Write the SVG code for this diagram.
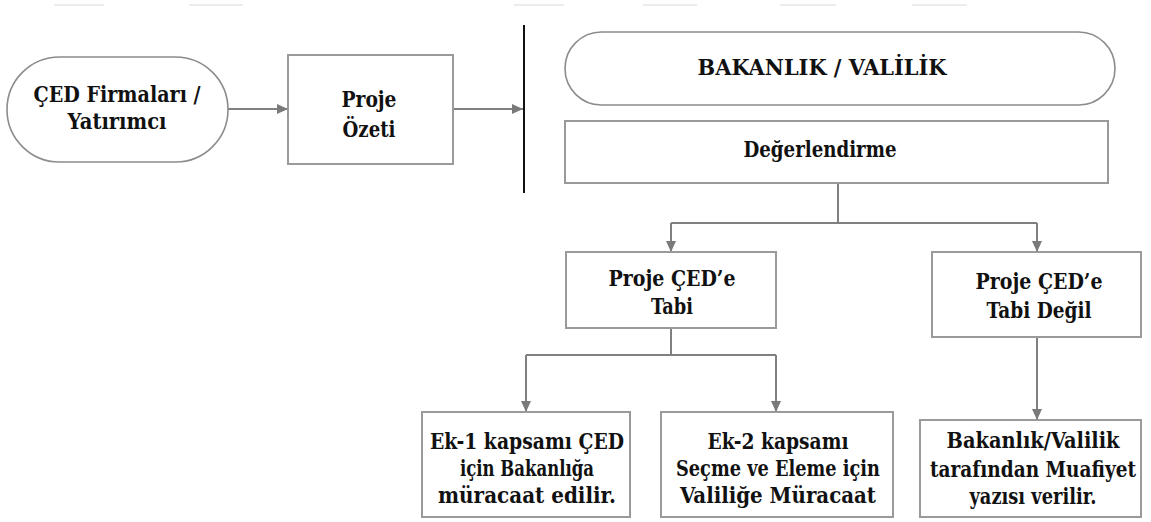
<svg xmlns="http://www.w3.org/2000/svg" width="1151" height="522" viewBox="0 0 1151 522">
  <style>
    .box { fill: #ffffff; stroke: #9a9a9a; stroke-width: 2; }
    .pill { fill: #ffffff; stroke: #8c8c8c; stroke-width: 1.6; }
    .lbl { font-family: "DejaVu Serif Condensed", "DejaVu Serif", "Liberation Serif", serif; font-stretch: condensed; font-weight: bold; font-size: 22px; fill: #111111; text-anchor: middle; }
    .conn { fill: none; stroke: #808080; stroke-width: 2; }
    .divider { fill: none; stroke: #111111; stroke-width: 2; }
    .rule { stroke: #ececec; stroke-width: 2; }
  </style>
  <defs>
    <marker id="arrow" markerUnits="userSpaceOnUse" markerWidth="11" markerHeight="10" refX="11" refY="5" orient="auto">
      <path d="M0,0 L11,5 L0,10 z" fill="#7a7a7a"/>
    </marker>
  </defs>

  <rect width="1151" height="522" fill="#ffffff"/>

  <!-- faint ruling along the top edge -->
  <g id="top-rule">
    <line class="rule" x1="54" y1="5" x2="104" y2="5"/>
    <line class="rule" x1="189" y1="5" x2="243" y2="5"/>
    <line class="rule" x1="514" y1="5" x2="564" y2="5"/>
    <line class="rule" x1="643" y1="5" x2="697" y2="5"/>
    <line class="rule" x1="780" y1="5" x2="836" y2="5"/>
    <line class="rule" x1="912" y1="5" x2="967" y2="5"/>
  </g>

  <!-- connectors -->
  <g id="connectors">
    <path class="conn" d="M228,109 H288" marker-end="url(#arrow)"/>
    <path class="conn" d="M453,109 H523" marker-end="url(#arrow)"/>
    <path class="divider" d="M524,25 V193"/>
    <path class="conn" d="M838,183 V223"/>
    <path class="conn" d="M671,223 H1037"/>
    <path class="conn" d="M671,223 V252" marker-end="url(#arrow)"/>
    <path class="conn" d="M1037,223 V252" marker-end="url(#arrow)"/>
    <path class="conn" d="M671,328 V355"/>
    <path class="conn" d="M526,355 H776"/>
    <path class="conn" d="M526,355 V412" marker-end="url(#arrow)"/>
    <path class="conn" d="M776,355 V412" marker-end="url(#arrow)"/>
    <path class="conn" d="M1037,337 V420" marker-end="url(#arrow)"/>
  </g>

  <g id="ced-firmalari">
    <rect class="pill" x="7" y="57" width="221" height="105" rx="52.5" ry="52.5"/>
    <text class="lbl" x="117" y="102" textLength="167" lengthAdjust="spacingAndGlyphs">ÇED Firmaları /</text>
    <text class="lbl" x="117" y="129" textLength="99" lengthAdjust="spacingAndGlyphs">Yatırımcı</text>
  </g>

  <g id="proje-ozeti">
    <rect class="box" x="288" y="55" width="165" height="109"/>
    <text class="lbl" x="369" y="107" textLength="55" lengthAdjust="spacingAndGlyphs">Proje</text>
    <text class="lbl" x="369" y="137" textLength="53" lengthAdjust="spacingAndGlyphs">Özeti</text>
  </g>

  <g id="bakanlik-valilik">
    <rect class="pill" x="565" y="32" width="550" height="73" rx="36.5" ry="36.5"/>
    <text class="lbl" x="822" y="75" textLength="249" lengthAdjust="spacingAndGlyphs">BAKANLIK / VALİLİK</text>
  </g>

  <g id="degerlendirme">
    <rect class="box" x="565" y="121" width="543" height="62"/>
    <text class="lbl" x="820" y="157" textLength="153" lengthAdjust="spacingAndGlyphs">Değerlendirme</text>
  </g>

  <g id="ced-tabi">
    <rect class="box" x="566" y="252" width="210" height="76"/>
    <text class="lbl" x="672" y="286" textLength="127" lengthAdjust="spacingAndGlyphs">Proje ÇED’e</text>
    <text class="lbl" x="672" y="314" textLength="42" lengthAdjust="spacingAndGlyphs">Tabi</text>
  </g>

  <g id="ced-tabi-degil">
    <rect class="box" x="932" y="252" width="209" height="85"/>
    <text class="lbl" x="1039" y="289" textLength="127" lengthAdjust="spacingAndGlyphs">Proje ÇED’e</text>
    <text class="lbl" x="1039" y="318" textLength="105" lengthAdjust="spacingAndGlyphs">Tabi Değil</text>
  </g>

  <g id="ek1">
    <rect class="box" x="422" y="412" width="208" height="105"/>
    <text class="lbl" x="527" y="449" textLength="194" lengthAdjust="spacingAndGlyphs">Ek-1  kapsamı ÇED</text>
    <text class="lbl" x="527" y="476" textLength="134" lengthAdjust="spacingAndGlyphs">için Bakanlığa</text>
    <text class="lbl" x="527" y="503" textLength="178" lengthAdjust="spacingAndGlyphs">müracaat edilir.</text>
  </g>

  <g id="ek2">
    <rect class="box" x="661" y="412" width="232" height="105"/>
    <text class="lbl" x="778" y="449" textLength="141" lengthAdjust="spacingAndGlyphs">Ek-2  kapsamı</text>
    <text class="lbl" x="778" y="476" textLength="204" lengthAdjust="spacingAndGlyphs">Seçme ve Eleme için</text>
    <text class="lbl" x="778" y="503" textLength="196" lengthAdjust="spacingAndGlyphs">Valiliğe Müracaat</text>
  </g>

  <g id="muafiyet">
    <rect class="box" x="920" y="420" width="221" height="97"/>
    <text class="lbl" x="1033" y="448" textLength="173" lengthAdjust="spacingAndGlyphs">Bakanlık/Valilik</text>
    <text class="lbl" x="1033" y="477" textLength="206" lengthAdjust="spacingAndGlyphs">tarafından Muafiyet</text>
    <text class="lbl" x="1033" y="504" textLength="127" lengthAdjust="spacingAndGlyphs">yazısı verilir.</text>
  </g>
</svg>
